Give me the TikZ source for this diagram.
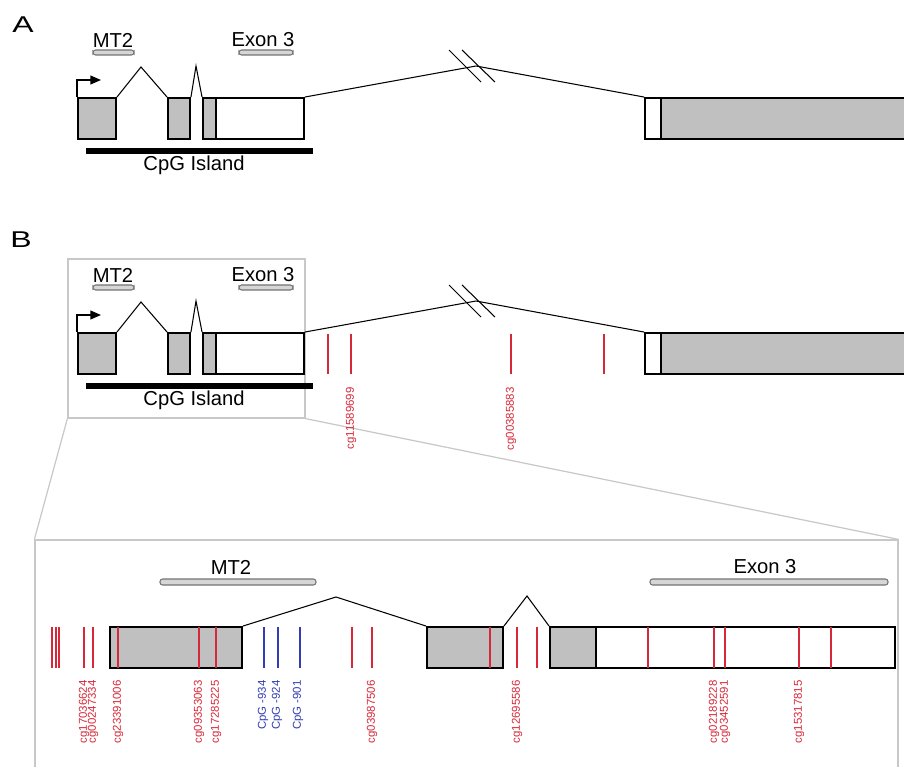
\documentclass[tikz,border=0pt]{standalone}
\usepackage{fontspec}
\setmainfont{Liberation Sans}
\usepackage{tikz}
\usetikzlibrary{arrows.meta,fit}

\definecolor{exongray}{RGB}{192,192,192}
\definecolor{bargray}{RGB}{214,214,214}
\definecolor{probered}{RGB}{214,40,56}
\definecolor{probeblue}{RGB}{50,60,180}
\definecolor{framegray}{RGB}{200,200,200}

% gene model: #1 name prefix, #2 vertical offset
\newcommand{\genemodel}[2]{%
  \node[lbl] (#1mtl) at (113,{40+#2}) {MT2};
  \node[lbl] (#1exl) at (263,{40+#2}) {Exon 3};
  \node[regbar, fit={(93,{50+#2}) (134,{55+#2})}] (#1mt) {};
  \node[regbar, fit={(239,{50+#2}) (293,{55+#2})}] (#1ex) {};
  \node[exon, fit={(78,{98+#2}) (116,{139+#2})}] (#1e1) {};
  \node[exon, fit={(168,{98+#2}) (190,{139+#2})}] (#1e2) {};
  \node[utr, fit={(216,{98+#2}) (304,{139+#2})}] (#1e3u) {};
  \node[exon, fit={(203,{98+#2}) (216,{139+#2})}] (#1e3c) {};
  \node[utr, fit={(645,{98+#2}) (661,{139+#2})}] (#1e4u) {};
  \node[exon, fit={(661,{98+#2}) (910,{139+#2})}] (#1e4c) {};
  \node[cpgbar, fit={(86,{148+#2}) (313,{154+#2})}] (#1cpg) {};
  \node[lbl] (#1cpgl) at (194,{165+#2}) {CpG Island};
  \coordinate (#1tss) at (101,{80+#2});
  \coordinate (#1brk) at (476,{66+#2});
  \draw[tss] (#1e1.north west) |- (#1tss);
  \draw[splice] (#1e1.north east) -- (141,{67+#2}) -- (#1e2.north west);
  \draw[splice] (#1e2.north east) -- (196,{66+#2}) -- (#1e3c.north west);
  \draw[splice] (#1e3u.north east) -- (#1brk) -- (#1e4u.north west);
  \draw[splice] ([shift={(-27,-16)}]#1brk) -- ++(32,32);
  \draw[splice] ([shift={(-14,-16)}]#1brk) -- ++(33,32);
}

\begin{document}
\begin{tikzpicture}[
  x=0.02cm, y=-0.02cm,
  exon/.style={draw, line width=1.1pt, fill=exongray, inner sep=0pt},
  utr/.style={draw, line width=1.1pt, fill=white, inner sep=0pt},
  regbar/.style={draw=black!55, fill=bargray, line width=0.6pt, rounded corners=1.5pt, inner sep=0pt},
  cpgbar/.style={fill=black, inner sep=0pt},
  boxframe/.style={draw=framegray, line width=0.7pt, inner sep=0pt},
  splice/.style={line width=0.6pt},
  tss/.style={line width=0.8pt, -{Triangle[length=6pt, width=5pt]}},
  lbl/.style={font=\fontsize{11.5}{13}\selectfont, inner sep=0pt},
  panel/.style={font=\fontsize{13}{15}\selectfont, xscale=1.4, inner sep=0pt},
  probe/.style={draw=probered, line width=0.8pt},
  cpgsite/.style={draw=probeblue, line width=0.8pt},
  probelbl/.style={text=probered, font=\fontsize{6.5}{7}\selectfont, rotate=90, anchor=east, inner sep=0pt},
  sitelbl/.style={text=probeblue, font=\fontsize{6.5}{7}\selectfont, rotate=90, anchor=east, inner sep=0pt}
]
  \useasboundingbox (0,0) rectangle (904,767);
  \clip (0,0) rectangle (904,767);

  \node[panel] (pa) at (23,25) {A};
  \node[panel] (pb) at (21,240) {B};

  \genemodel{a}{0}

  \node[boxframe, fit={(68,259) (305,418)}] (inset) {};
  \node[boxframe, fit={(35,540) (898,800)}] (zoom) {};
  \draw[boxframe] (inset.south west) -- (zoom.north west);
  \draw[boxframe] (inset.south east) -- (zoom.north east);

  \genemodel{b}{235}

  \foreach \x in {328,351,511,604}
    \draw[probe] (\x,334) -- (\x,374);
  \node[probelbl] (p1) at (351,387) {cg11589699};
  \node[probelbl] (p2) at (511,387) {cg00385883};

  \node[lbl] (zmtl) at (231,567) {MT2};
  \node[lbl] (zexl) at (765,567) {Exon 3};
  \node[regbar, fit={(160,579) (316,585)}] (zmt) {};
  \node[regbar, fit={(650,579) (888,585)}] (zex) {};
  \node[exon, fit={(110,627) (242,668)}] (z1) {};
  \node[exon, fit={(427,627) (503,668)}] (z2) {};
  \node[utr, fit={(596,627) (895,668)}] (z3u) {};
  \node[exon, fit={(550,627) (596,668)}] (z3c) {};
  \draw[splice] (z1.north east) -- (336,597) -- (z2.north west);
  \draw[splice] (z2.north east) -- (527,596) -- (z3c.north west);

  \foreach \x in {52,56,59,84,93,118,199,216,352,372,490,517,537,648,714,725,799,831}
    \draw[probe] (\x,627) -- (\x,668);
  \foreach \x in {264,278,300}
    \draw[cpgsite] (\x,627) -- (\x,668);

  \foreach \x/\t in {84/cg17036624, 93/cg00247334, 118/cg23391006, 199/cg09353063,
      216/cg17285225, 372/cg03987506, 517/cg12695586, 714/cg02189228,
      725/cg03452591, 799/cg15317815}
    \node[probelbl] at (\x,680) {\t};
  \foreach \x/\t in {263/CpG -934, 277/CpG -924, 298/CpG -901}
    \node[sitelbl] at (\x,680) {\t};
\end{tikzpicture}
\end{document}
